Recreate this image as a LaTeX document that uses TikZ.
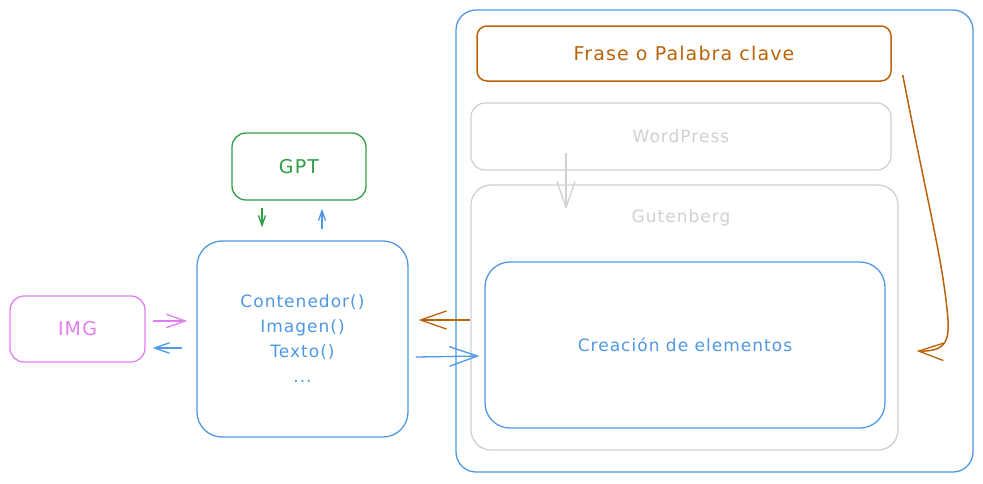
\documentclass[tikz,border=0pt]{standalone}
\usepackage{fontspec}
\setmainfont{DejaVu Sans}[LetterSpace=6]
\usetikzlibrary{arrows.meta,calc}
\definecolor{blueC}{RGB}{78,152,228}
\definecolor{brownC}{RGB}{186,98,10}
\definecolor{greenC}{RGB}{47,158,68}
\definecolor{grayC}{RGB}{208,208,208}
\definecolor{violetC}{RGB}{224,128,240}
\tikzset{
  box/.style={draw, line width=1.3pt, rounded corners=#1, inner sep=0pt, align=center},
  txt/.style={font=\fontsize{17}{25}\selectfont},
  bigtxt/.style={font=\fontsize{19}{25}\selectfont},
  arr/.style={line width=1.3pt, -{Straight Barb[length=#1, width=0.7*#1, line width=1.3pt]}},
}
\begin{document}
\begin{tikzpicture}[x=1pt,y=-1pt]
\useasboundingbox (0,0) rectangle (983,483);
% outer container
\node[box=20pt, blueC, minimum width=517pt, minimum height=462pt] (outer) at (714.5,241) {};
\node[box=10pt, brownC, line width=1.5pt, minimum width=414pt, minimum height=55pt, bigtxt, text=brownC] (frase) at (684,53.5) {Frase o Palabra clave};
\node[box=14pt, grayC, minimum width=420pt, minimum height=67pt, txt, text=grayC] (wp) at (681,136.5) {WordPress};
\node[box=20pt, grayC, minimum width=427pt, minimum height=265pt] (gut) at (684.5,317.5) {};
\node[txt, text=grayC] (gutlabel) at (681,218) {Gutenberg};
\node[box=25pt, blueC, minimum width=400pt, minimum height=166pt, txt, text=blueC] (crea) at (685,345) {Creación de elementos};
% left side
\node[box=14pt, greenC, minimum width=134pt, minimum height=67pt, bigtxt, text=greenC] (gpt) at (299,166.5) {GPT};
\node[box=25pt, blueC, minimum width=211pt, minimum height=196pt, txt, text=blueC] (main) at (302.5,339) {Contenedor()\\Imagen()\\Texto()\\...};
\node[box=14pt, violetC, minimum width=135pt, minimum height=66pt, bigtxt, text=violetC] (img) at (77.5,329) {IMG};
% connectors
\draw[arr=26pt, grayC] ($(wp.south)+(-115,-18)$) -- ($(gut.north)+(-118.5,25)$);
\draw[arr=26pt, brownC, line width=1.8pt] ($(gut.west)+(0,2.5)$) -- ($(main.east)+(10,-19)$);
\draw[arr=28pt, blueC] ($(main.east)+(7,18)$) -- ($(crea.west)+(-5,11)$);
\draw[arr=19pt, violetC] ($(img.east)+(7,-8)$) -- ($(main.west)+(-9,-18)$);
\draw[arr=15pt, blueC] ($(main.west)+(-14,9)$) -- ($(img.east)+(7,19)$);
\draw[arr=10pt, greenC] ($(gpt.south)+(-37,7)$) -- ($(main.north)+(-40.5,-13)$);
\draw[arr=10pt, blueC] ($(main.north)+(19.5,-11)$) -- ($(gpt.south)+(23,8)$);
\draw[arr=25pt, brownC, line width=1.5pt] ($(frase.east)+(11,21.5)$) .. controls (925,190) and (940,250) .. (946,300) .. controls (950,335) and (952,352) .. ($(crea.east)+(31,6)$);
\end{tikzpicture}
\end{document}
